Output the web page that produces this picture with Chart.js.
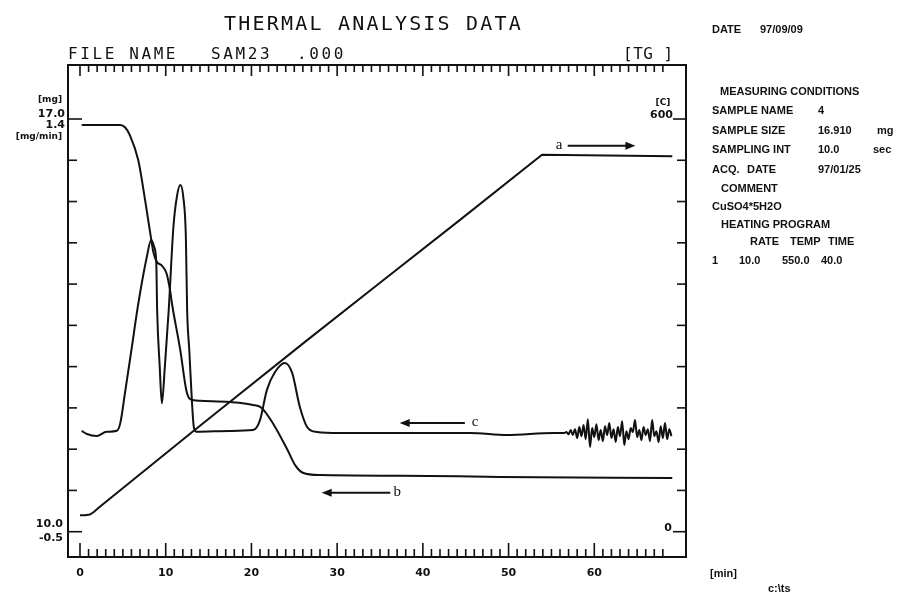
<!DOCTYPE html>
<html>
<head>
    <title>Thermal Analysis Data</title>
    <script src="https://cdn.jsdelivr.net/npm/chart.js"></script>
    <style>
        body { margin: 0; background: #fff; }
        #page { position: relative; width: 899px; height: 596px; overflow: hidden; background: #fff; }
        #tgChart { position: absolute; left: 0; top: 0; }
        .t { position: absolute; line-height: 1; white-space: pre; color: #111; }
        .head { font-family: "DejaVu Sans Mono", monospace; font-size: 20px; letter-spacing: 2.2px; }
        .file { font-family: "DejaVu Sans Mono", monospace; font-size: 16px; letter-spacing: 2.6px; }
        .pn { font-family: "Liberation Sans", Arial, sans-serif; font-size: 11px; font-weight: bold; }
    </style>
</head>
<body>
<div id="page">
    <canvas id="tgChart" width="899" height="596"></canvas>

    <span class="t head" style="left:224px; top:13px;">THERMAL ANALYSIS DATA</span>
    <span class="t file" style="left:68px; top:46px;">FILE NAME</span>
    <span class="t file" style="left:211px; top:46px;">SAM23</span>
    <span class="t file" style="left:297px; top:46px;">.000</span>
    <span class="t file" style="left:623px; top:46px; letter-spacing:0.5px;">[TG ]</span>

    <span class="t pn" style="left:712px; top:24px;">DATE</span>
    <span class="t pn" style="left:760px; top:24px;">97/09/09</span>

    <span class="t pn" style="left:720px; top:86px;">MEASURING CONDITIONS</span>
    <span class="t pn" style="left:712px; top:105px;">SAMPLE NAME</span>
    <span class="t pn" style="left:818px; top:105px;">4</span>
    <span class="t pn" style="left:712px; top:125px;">SAMPLE SIZE</span>
    <span class="t pn" style="left:818px; top:125px;">16.910</span>
    <span class="t pn" style="left:877px; top:125px;">mg</span>
    <span class="t pn" style="left:712px; top:144px;">SAMPLING INT</span>
    <span class="t pn" style="left:818px; top:144px;">10.0</span>
    <span class="t pn" style="left:873px; top:144px;">sec</span>
    <span class="t pn" style="left:712px; top:164px;">ACQ.</span>
    <span class="t pn" style="left:747px; top:164px;">DATE</span>
    <span class="t pn" style="left:818px; top:164px;">97/01/25</span>
    <span class="t pn" style="left:721px; top:183px;">COMMENT</span>
    <span class="t pn" style="left:712px; top:201px;">CuSO4*5H2O</span>
    <span class="t pn" style="left:721px; top:219px;">HEATING PROGRAM</span>
    <span class="t pn" style="left:750px; top:236px;">RATE</span>
    <span class="t pn" style="left:790px; top:236px;">TEMP</span>
    <span class="t pn" style="left:828px; top:236px;">TIME</span>
    <span class="t pn" style="left:712px; top:255px;">1</span>
    <span class="t pn" style="left:739px; top:255px;">10.0</span>
    <span class="t pn" style="left:782px; top:255px;">550.0</span>
    <span class="t pn" style="left:821px; top:255px;">40.0</span>

    <span class="t pn" style="left:710px; top:568px;">[min]</span>
    <span class="t pn" style="left:768px; top:583px;">c:\ts</span>
</div>

<script>
    // time axis (min)
    const timeLabels = [0, 10, 20, 30, 40, 50, 60];
    const lastMinuteTick = 68;
    // left/right tick marks, in mg (TG scale)
    const massTicks = [10.0, 10.7, 11.4, 12.1, 12.8, 13.5, 14.2, 14.9, 15.6, 16.3, 17.0];

    // a: furnace temperature (C)
    const tempTime  = [0, 0.6, 1.15, 1.65, 2.1, 13.2, 16.3, 26.25, 35.0, 44.3, 53.9, 69.1];
    const tempValue = [24, 24, 25, 29, 34, 146, 177, 276, 362, 453, 548, 546];

    // b: TG, sample mass (mg)
    const tgTime = [0.2, 4.7, 5.25, 5.8, 6.8, 7.6, 8.2, 8.55, 8.95, 9.5, 10.1, 10.5, 10.75, 11.7, 12.4,
                    12.85, 14.0, 17.5, 20.2, 21.2, 22.5, 24.2, 25.1, 26.0, 28.0, 37.3, 49.0, 69.1];
    const tgMass = [16.90, 16.90, 16.86, 16.73, 16.30, 15.62, 15.06, 14.75, 14.58, 14.52, 14.38, 14.10, 13.85, 13.08, 12.40,
                    12.25, 12.22, 12.20, 12.15, 12.10, 11.84, 11.39, 11.13, 11.00, 10.96, 10.95, 10.93, 10.91];

    // c: DTG (mg/min)
    const dtgTime = [0.2, 0.8, 1.95, 3.1, 4.3, 4.7, 5.25, 6.0, 6.8, 7.8, 8.3, 8.65, 8.9, 9.0, 9.3, 9.55,
                     9.9, 10.35, 10.9, 11.3, 11.7, 12.05, 12.35, 12.5, 12.75, 13.05, 13.3, 13.6, 17.5, 20.2,
                     21.0, 21.8, 22.75, 23.9, 24.75, 25.65, 26.5, 27.65, 30.3, 45.5, 49.8, 55.2, 56.0,
                     // noisy tail during the isothermal hold
                     56.5, 56.75, 57.0, 57.25, 57.5, 57.75, 58.0, 58.25, 58.5, 58.75, 59.0, 59.25, 59.5,
                     59.75, 60.0, 60.25, 60.5, 60.75, 61.0, 61.25, 61.5, 61.75, 62.0, 62.25, 62.5, 62.75,
                     63.0, 63.25, 63.5, 63.75, 64.0, 64.25, 64.5, 64.75, 65.0, 65.25, 65.5, 65.75, 66.0,
                     66.25, 66.5, 66.75, 67.0, 67.25, 67.5, 67.75, 68.0, 68.25, 68.5, 68.75, 69.0];
    const dtgValue = [-0.036, -0.050, -0.059, -0.040, -0.035, 0.000, 0.139, 0.337, 0.550, 0.766, 0.843, 0.812, 0.737, 0.521, 0.260, 0.091,
                      0.260, 0.521, 0.904, 1.042, 1.096, 1.042, 0.858, 0.521, 0.337, 0.106, -0.024, -0.040, -0.036, -0.032,
                      0.014, 0.152, 0.235, 0.277, 0.231, 0.074, -0.018, -0.041, -0.046, -0.046, -0.055, -0.046, -0.046,
                      -0.046, -0.041, -0.051, -0.032, -0.055, -0.028, -0.069, -0.018, -0.060, -0.009, -0.074, 0.018, -0.110,
                      -0.023, -0.064, -0.005, -0.078, -0.032, -0.083, -0.014, -0.055, 0.000, -0.069, -0.028, -0.087, -0.018,
                      -0.060, 0.009, -0.101, -0.037, -0.074, -0.023, -0.041, 0.014, -0.064, -0.032, -0.078, -0.018, -0.055,
                      -0.028, -0.083, 0.014, -0.060, -0.037, -0.087, -0.014, -0.069, 0.000, -0.074, -0.028, -0.060];

    const ink = '#111';
    const toPoints = (xs, ys) => xs.map((x, i) => ({ x: x, y: ys[i] }));

    // curve tags with their arrows, in data units of the curve's own axis
    const curveTags = [
        { text: 'a', axis: 'yT',   from: 56.9, to: 64.8, at: 561,   textAt: 55.9 },
        { text: 'c', axis: 'yDTG', from: 44.9, to: 37.3, at: 0.0,   textAt: 46.1 },
        { text: 'b', axis: 'yTG',  from: 36.2, to: 28.2, at: 10.66, textAt: 37.0 }
    ];

    function seg(ctx, x1, y1, x2, y2) {
        ctx.beginPath();
        ctx.moveTo(x1, y1);
        ctx.lineTo(x2, y2);
        ctx.stroke();
    }

    // frame, ruler ticks, axis labels and curve tags
    const framePlugin = {
        id: 'frame',
        afterDatasetsDraw(chart) {
            const { ctx, chartArea: a, scales } = chart;
            const x = scales.x, yTG = scales.yTG, yT = scales.yT;
            ctx.save();
            ctx.strokeStyle = ink;
            ctx.fillStyle = ink;
            ctx.lineWidth = 2;
            ctx.strokeRect(a.left, a.top, a.right - a.left, a.bottom - a.top);

            ctx.lineWidth = 1.6;
            for (let m = 0; m <= lastMinuteTick; m++) {
                const px = x.getPixelForValue(m);
                const major = m % 10 === 0;
                seg(ctx, px, a.top, px, a.top + (major ? 11 : 7));
                seg(ctx, px, a.bottom, px, a.bottom - (major ? 14 : 8));
            }
            massTicks.forEach((v, i) => {
                const py = yTG.getPixelForValue(v);
                const end = i === 0 || i === massTicks.length - 1;
                seg(ctx, a.left, py, a.left + (end ? 14 : 9), py);
                seg(ctx, a.right, py, a.right - (end ? 13 : 9), py);
            });

            // time labels
            ctx.font = 'bold 11px "DejaVu Sans"';
            ctx.textAlign = 'center';
            ctx.textBaseline = 'middle';
            timeLabels.forEach(t => ctx.fillText(String(t), x.getPixelForValue(t), a.bottom + 16));

            // left axis: TG top/bottom over DTG top/bottom
            const top = yTG.getPixelForValue(17.0);
            const bot = yTG.getPixelForValue(10.0);
            ctx.textAlign = 'right';
            ctx.fillText('17.0', a.left - 3, top - 5);
            ctx.fillText('1.4', a.left - 3, top + 6);
            ctx.fillText('10.0', a.left - 5, bot - 8);
            ctx.fillText('-0.5', a.left - 5, bot + 6);
            ctx.font = 'bold 9px "DejaVu Sans"';
            ctx.fillText('[mg]', a.left - 6, top - 19);
            ctx.fillText('[mg/min]', a.left - 6, top + 18);

            // right axis: temperature
            const t600 = yT.getPixelForValue(600);
            const t0 = yT.getPixelForValue(0);
            ctx.textAlign = 'center';
            ctx.fillText('[C]', a.right - 23, t600 - 16);
            ctx.font = 'bold 11px "DejaVu Sans"';
            ctx.textAlign = 'right';
            ctx.fillText('600', a.right - 13, t600 - 4);
            ctx.fillText('0', a.right - 14, t0 - 4);

            // curve tags
            ctx.font = '15px "Liberation Serif"';
            ctx.textAlign = 'center';
            ctx.lineWidth = 2;
            curveTags.forEach(tag => {
                const py = scales[tag.axis].getPixelForValue(tag.at);
                const x1 = x.getPixelForValue(tag.from);
                const x2 = x.getPixelForValue(tag.to);
                const dir = Math.sign(x2 - x1);
                seg(ctx, x1, py, x2 - dir * 6, py);
                ctx.beginPath();
                ctx.moveTo(x2, py);
                ctx.lineTo(x2 - dir * 10, py - 4);
                ctx.lineTo(x2 - dir * 10, py + 4);
                ctx.closePath();
                ctx.fill();
                ctx.fillText(tag.text, x.getPixelForValue(tag.textAt), py - 1);
            });
            ctx.restore();
        }
    };

    new Chart(document.getElementById('tgChart'), {
        type: 'line',
        data: {
            datasets: [
                // the temperature program is a straight ramp and hold, so no smoothing
                { label: 'Temperature', data: toPoints(tempTime, tempValue), yAxisID: 'yT',
                  cubicInterpolationMode: 'default', tension: 0 },
                { label: 'TG', data: toPoints(tgTime, tgMass), yAxisID: 'yTG' },
                { label: 'DTG', data: toPoints(dtgTime, dtgValue), yAxisID: 'yDTG' }
            ]
        },
        options: {
            responsive: false,
            animation: false,
            devicePixelRatio: 1,
            layout: { padding: { left: 68, top: 65, right: 213, bottom: 39 } },
            plugins: { legend: { display: false }, tooltip: { enabled: false } },
            elements: {
                point: { radius: 0 },
                line: { borderColor: ink, borderWidth: 2, cubicInterpolationMode: 'monotone', fill: false }
            },
            scales: {
                x: { type: 'linear', display: false, min: -1.4, max: 70.7 },
                yTG: { type: 'linear', display: false, min: 9.571, max: 17.916 },
                yDTG: { type: 'linear', display: false, min: -0.6165, max: 1.649 },
                yT: { type: 'linear', display: false, min: -36.8, max: 678.5 }
            }
        },
        plugins: [framePlugin]
    });
</script>
</body>
</html>
